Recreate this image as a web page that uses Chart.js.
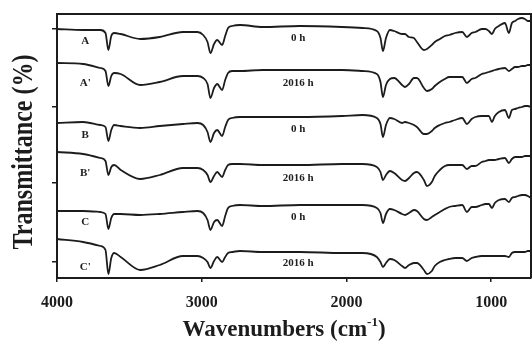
<!DOCTYPE html>
<html>
<head>
<meta charset="utf-8">
<title>FTIR spectra</title>
<script src="https://cdn.jsdelivr.net/npm/chart.js@4.4.1/dist/chart.umd.min.js"></script>
<style>
  html, body { margin: 0; padding: 0; background: #fff; }
</style>
</head>
<body>
<canvas id="ftirChart" width="532" height="341"></canvas>
<script>
// wavenumber grid (cm-1) shared by the six spectra
const wavenumbers = [4000, 3820, 3700, 3665, 3645, 3625, 3605, 3560, 3425, 3290,
  3130, 3030, 2990, 2960, 2940, 2915, 2893, 2859, 2838, 2818,
  2790, 2735, 2580, 2320, 2030, 1890, 1790, 1765, 1748, 1727,
  1700, 1670, 1616, 1596, 1568, 1534, 1513, 1465, 1444, 1410,
  1390, 1355, 1320, 1290, 1250, 1200, 1168, 1135, 1110, 1065,
  1040, 1016, 995, 975, 947, 905, 878, 857, 835, 815,
  788, 767, 747, 725];

// transmittance, stacked with offsets (arbitrary units)
const spectrumA = [249, 248, 248, 245, 228, 242, 245, 244, 239, 241,
  246, 246, 243, 236, 225, 234, 238, 233, 242, 250,
  252, 253, 251, 252, 251, 250, 247, 240, 227, 240,
  248, 247, 244, 244, 241, 240, 236, 228, 229, 233,
  236, 239, 242, 243, 245, 246, 241, 245, 246, 249,
  249, 247, 244, 249, 252, 255, 245, 255, 257, 259,
  260, 259, 257, 257];
const spectrumA2 = [215, 214, 210, 207, 192, 202, 205, 204, 193, 196,
  202, 202, 200, 194, 180, 190, 194, 188, 198, 205,
  207, 207, 208, 208, 208, 207, 204, 196, 181, 193,
  199, 200, 193, 191, 194, 200, 200, 190, 187, 189,
  192, 196, 199, 201, 201, 201, 195, 199, 200, 204,
  205, 206, 207, 208, 209, 210, 207, 209, 211, 211,
  212, 212, 213, 213];
const spectrumB = [155, 156, 153, 151, 137, 148, 153, 152, 150, 152,
  154, 155, 153, 146, 136, 145, 148, 142, 151, 158,
  160, 161, 161, 161, 162, 163, 160, 154, 141, 153,
  160, 159, 155, 156, 155, 153, 151, 144, 144, 147,
  150, 153, 155, 156, 158, 160, 154, 159, 161, 162,
  162, 162, 156, 162, 166, 168, 160, 168, 169, 170,
  171, 172, 172, 171];
const spectrumB2 = [126, 124, 120, 117, 103, 111, 113, 108, 99, 103,
  110, 110, 108, 103, 96, 102, 106, 101, 108, 113,
  114, 114, 113, 113, 114, 114, 111, 106, 98, 103,
  107, 105, 98, 97, 100, 105, 106, 98, 92, 96,
  102, 108, 112, 113, 113, 113, 109, 112, 112, 116,
  117, 118, 118, 118, 119, 120, 115, 119, 121, 121,
  121, 122, 122, 122];
const spectrumC = [67, 67, 66, 64, 49, 60, 64, 64, 63, 64,
  66, 67, 65, 58, 48, 56, 58, 52, 62, 70,
  72, 73, 72, 73, 73, 73, 70, 65, 55, 64,
  69, 68, 64, 63, 65, 68, 67, 59, 58, 61,
  63, 66, 69, 71, 72, 73, 66, 71, 71, 73,
  74, 74, 70, 75, 78, 79, 76, 80, 81, 82,
  83, 83, 82, 80];
const spectrumC2 = [39, 36, 32, 28, 4, 20, 25, 21, 8, 13,
  22, 22, 20, 16, 10, 17, 21, 16, 21, 25,
  26, 27, 26, 26, 25, 25, 21, 16, 11, 15,
  19, 18, 12, 10, 13, 15, 15, 8, 4, 7,
  12, 16, 18, 19, 20, 20, 17, 20, 21, 22,
  22, 22, 22, 22, 22, 22, 21, 25, 26, 26,
  26, 26, 27, 27];

const sampleNames = ["A", "A'", "B", "B'", "C", "C'"];
const agingTimes = ["0 h", "2016 h", "0 h", "2016 h", "0 h", "2016 h"];
const xTickValues = [4000, 3000, 2000, 1000];
const yTickValues = [16, 95, 171, 249];

const ink = "#1c1c1c";
const serif = '"Liberation Serif", "Times New Roman", serif';

// where the sample / time labels sit (wavenumber and level)
const nameLabelWn = 3805;
const timeLabelWn = 2334;
const nameLabelLevels = [237, 195, 143, 105, 56, 11];
const timeLabelLevels = [240, 195, 149, 100, 61, 15];

const spectra = [spectrumA, spectrumA2, spectrumB, spectrumB2, spectrumC, spectrumC2];

// top and right edges of the frame
const framePlugin = {
  id: "frame",
  afterDatasetsDraw(chart) {
    const { ctx, chartArea } = chart;
    ctx.save();
    ctx.strokeStyle = ink;
    ctx.lineWidth = 2;
    ctx.beginPath();
    ctx.moveTo(chartArea.left, chartArea.top);
    ctx.lineTo(chartArea.right, chartArea.top);
    ctx.lineTo(chartArea.right, chartArea.bottom);
    ctx.stroke();
    ctx.restore();
  },
};

const textPlugin = {
  id: "texts",
  afterDraw(chart) {
    const { ctx } = chart;
    const x = chart.scales.x;
    const y = chart.scales.y;
    ctx.save();
    ctx.fillStyle = ink;
    ctx.textAlign = "center";
    ctx.textBaseline = "middle";
    ctx.font = "bold 11px " + serif;
    sampleNames.forEach((name, i) => {
      ctx.fillText(name, x.getPixelForValue(nameLabelWn), y.getPixelForValue(nameLabelLevels[i]));
      ctx.fillText(agingTimes[i], x.getPixelForValue(timeLabelWn), y.getPixelForValue(timeLabelLevels[i]));
    });

    // y title, rotated
    ctx.save();
    ctx.translate(32, 152);
    ctx.rotate(-Math.PI / 2);
    ctx.scale(1, 1.2);
    ctx.font = "bold 24px " + serif;
    ctx.textBaseline = "alphabetic";
    ctx.fillText("Transmittance (%)", 0, 0);
    ctx.restore();

    // x title with superscript
    const main = "Wavenumbers (cm";
    const sup = "-1";
    const close = ")";
    ctx.textAlign = "left";
    ctx.textBaseline = "alphabetic";
    ctx.font = "bold 23px " + serif;
    const wMain = ctx.measureText(main).width;
    const wClose = ctx.measureText(close).width;
    ctx.font = "bold 13px " + serif;
    const wSup = ctx.measureText(sup).width;
    const left = 284 - (wMain + wSup + wClose) / 2;
    ctx.font = "bold 23px " + serif;
    ctx.fillText(main, left, 336);
    ctx.font = "bold 13px " + serif;
    ctx.fillText(sup, left + wMain, 326);
    ctx.font = "bold 23px " + serif;
    ctx.fillText(close, left + wMain + wSup, 336);
    ctx.restore();
  },
};

const ctx = document.getElementById("ftirChart").getContext("2d");
new Chart(ctx, {
  type: "line",
  data: {
    datasets: spectra.map((values, i) => ({
      label: sampleNames[i] + " " + agingTimes[i],
      data: values.map((v, j) => ({ x: wavenumbers[j], y: v })),
      borderColor: ink,
      borderWidth: 1.8,
      pointRadius: 0,
      cubicInterpolationMode: "monotone",
      fill: false,
    })),
  },
  options: {
    responsive: false,
    animation: false,
    layout: { padding: { left: 0, right: 1, top: 14, bottom: 0 } },
    plugins: {
      legend: { display: false },
      tooltip: { enabled: false },
    },
    scales: {
      x: {
        type: "linear",
        reverse: true,
        min: 725,
        max: 4000,
        afterBuildTicks: (scale) => {
          scale.ticks = xTickValues.map((v) => ({ value: v }));
        },
        afterFit: (scale) => {
          scale.height = 63;
        },
        grid: { drawOnChartArea: false, tickLength: 4, color: ink, lineWidth: 1.5 },
        border: { display: true, color: ink, width: 2 },
        ticks: {
          color: ink,
          font: { family: serif, size: 16, weight: "bold" },
          padding: 11,
          maxRotation: 0,
          autoSkip: false,
          callback: (value) => String(value),
        },
      },
      y: {
        type: "linear",
        min: 0,
        max: 264,
        afterBuildTicks: (scale) => {
          scale.ticks = yTickValues.map((v) => ({ value: v }));
        },
        afterFit: (scale) => {
          scale.width = 57;
        },
        grid: { drawOnChartArea: false, tickLength: 5, color: ink, lineWidth: 1.5 },
        border: { display: true, color: ink, width: 2 },
        ticks: { display: false },
      },
    },
  },
  plugins: [framePlugin, textPlugin],
});
</script>
</body>
</html>
